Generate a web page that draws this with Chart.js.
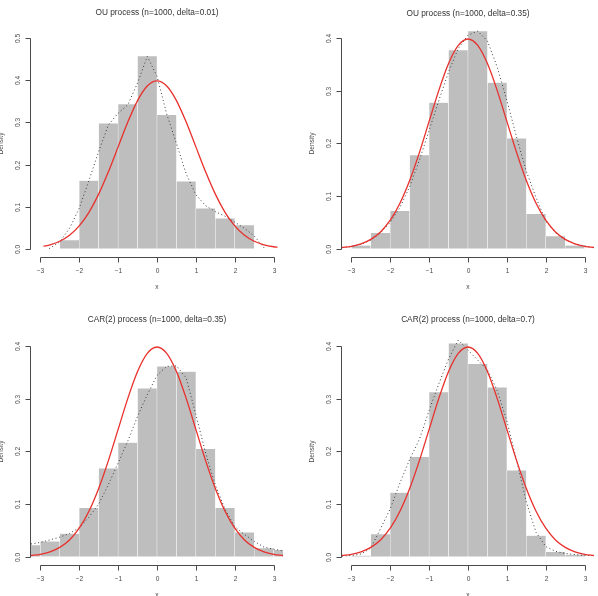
<!DOCTYPE html>
<html>
<head>
<meta charset="utf-8">
<script src="https://cdn.jsdelivr.net/npm/chart.js@4/dist/chart.umd.min.js"></script>
<style>
  body { margin: 0; background: #fff; }
  .panel { position: absolute; width: 299px; height: 298px; }
</style>
</head>
<body>
<div class="panel" style="left:0;top:0"><canvas id="ou001" width="299" height="298"></canvas></div>
<div class="panel" style="left:299px;top:0"><canvas id="ou035" width="299" height="298"></canvas></div>
<div class="panel" style="left:0;top:298px"><canvas id="car035" width="299" height="298"></canvas></div>
<div class="panel" style="left:299px;top:298px"><canvas id="car07" width="299" height="298"></canvas></div>
<script>
// Tick values and labels
const xTicks = [-3, -2, -1, 0, 1, 2, 3];
const xTickLabels = ['\u22123', '\u22122', '\u22121', '0', '1', '2', '3'];
const yTicks5 = [0, 0.1, 0.2, 0.3, 0.4, 0.5];
const yTickLabels5 = ['0.0', '0.1', '0.2', '0.3', '0.4', '0.5'];
const yTicks4 = [0, 0.1, 0.2, 0.3, 0.4];
const yTickLabels4 = ['0.0', '0.1', '0.2', '0.3', '0.4'];

// Normal density curve (red)
const normX = [-3.24, -3.0, -2.75, -2.5, -2.25, -2.0, -1.75, -1.5, -1.25, -1.0, -0.75, -0.5, -0.25, 0,
  0.25, 0.5, 0.75, 1.0, 1.25, 1.5, 1.75, 2.0, 2.25, 2.5, 2.75, 3.0, 3.24];
const normY = [0.0021, 0.0044, 0.0091, 0.0175, 0.0317, 0.0540, 0.0863, 0.1295, 0.1826, 0.2420, 0.3011, 0.3521, 0.3867, 0.3989,
  0.3867, 0.3521, 0.3011, 0.2420, 0.1826, 0.1295, 0.0863, 0.0540, 0.0317, 0.0175, 0.0091, 0.0044, 0.0021];
const normX1 = [-2.92, -2.75, -2.5, -2.25, -2.0, -1.75, -1.5, -1.25, -1.0, -0.75, -0.5, -0.25, 0,
  0.25, 0.5, 0.75, 1.0, 1.25, 1.5, 1.75, 2.0, 2.25, 2.5, 2.75, 3.0, 3.1];
const normY1 = [0.0056, 0.0091, 0.0175, 0.0317, 0.0540, 0.0863, 0.1295, 0.1826, 0.2420, 0.3011, 0.3521, 0.3867, 0.3989,
  0.3867, 0.3521, 0.3011, 0.2420, 0.1826, 0.1295, 0.0863, 0.0540, 0.0317, 0.0175, 0.0091, 0.0044, 0.0033];

// OU process, delta=0.01
const ou001Mids = [-2.25, -1.75, -1.25, -0.75, -0.25, 0.25, 0.75, 1.25, 1.75, 2.25];
const ou001Density = [0.020, 0.162, 0.298, 0.344, 0.458, 0.318, 0.160, 0.096, 0.072, 0.056];
const ou001KdeX = [-2.77, -2.5, -2.25, -2.0, -1.75, -1.5, -1.25, -1.0, -0.75, -0.5, -0.25, 0.0,
  0.25, 0.5, 0.75, 1.0, 1.25, 1.5, 1.75, 2.0, 2.25, 2.5, 2.77];
const ou001KdeY = [0.0, 0.016, 0.048, 0.096, 0.162, 0.231, 0.294, 0.322, 0.342, 0.394, 0.457, 0.41,
  0.32, 0.25, 0.178, 0.128, 0.102, 0.088, 0.077, 0.063, 0.048, 0.03, 0.0];

// OU process, delta=0.35
const ou035Mids = [-2.75, -2.25, -1.75, -1.25, -0.75, -0.25, 0.25, 0.75, 1.25, 1.75, 2.25, 2.75];
const ou035Density = [0.006, 0.030, 0.072, 0.178, 0.278, 0.378, 0.414, 0.316, 0.210, 0.066, 0.024, 0.006];
const gridX = [-3.24, -3.0, -2.75, -2.5, -2.25, -2.0, -1.75, -1.5, -1.25, -1.0, -0.75, -0.5, -0.25, 0,
  0.25, 0.5, 0.75, 1.0, 1.25, 1.5, 1.75, 2.0, 2.25, 2.5, 2.75, 3.0, 3.24];
const ou035KdeY = [0.002, 0.004, 0.008, 0.016, 0.03, 0.05, 0.078, 0.118, 0.168, 0.225, 0.282, 0.336, 0.381, 0.406,
  0.414, 0.395, 0.346, 0.282, 0.212, 0.147, 0.097, 0.052, 0.03, 0.017, 0.009, 0.005, 0.002];

// CAR(2) process, delta=0.35
const car035Mids = [-3.25, -2.75, -2.25, -1.75, -1.25, -0.75, -0.25, 0.25, 0.75, 1.25, 1.75, 2.25, 2.75, 3.25];
const car035Density = [0.022, 0.029, 0.044, 0.093, 0.168, 0.217, 0.320, 0.362, 0.352, 0.205, 0.093, 0.046, 0.016, 0.013];
const car035KdeY = [0.024, 0.027, 0.032, 0.037, 0.044, 0.055, 0.075, 0.10, 0.137, 0.178, 0.22, 0.267, 0.308, 0.345,
  0.362, 0.363, 0.34, 0.27, 0.197, 0.136, 0.09, 0.057, 0.042, 0.029, 0.018, 0.014, 0.011];

// CAR(2) process, delta=0.7
const car07Mids = [-2.75, -2.25, -1.75, -1.25, -0.75, -0.25, 0.25, 0.75, 1.25, 1.75, 2.25, 2.75];
const car07Density = [0.002, 0.043, 0.122, 0.190, 0.313, 0.406, 0.367, 0.322, 0.164, 0.040, 0.009, 0.004];
const car07KdeY = [0.001, 0.002, 0.005, 0.016, 0.053, 0.091, 0.14, 0.185, 0.223, 0.278, 0.329, 0.376, 0.412, 0.393,
  0.374, 0.355, 0.316, 0.258, 0.183, 0.104, 0.046, 0.019, 0.01, 0.006, 0.004, 0.002, 0.002];

const FONT = '"Liberation Sans", Arial, Helvetica, sans-serif';
const AXIS_COL = '#4a4a4a';

// R-style axes: line spans first..last tick, ticks point outward
const rAxes = {
  id: 'rAxes',
  afterDraw(chart, args, opts) {
    const ctx = chart.ctx, a = chart.chartArea;
    const xs = chart.scales.x, ys = chart.scales.y;
    ctx.save();
    ctx.strokeStyle = AXIS_COL;
    ctx.lineWidth = 1;

    const yb = Math.round(a.bottom) + 0.5;
    const xl = Math.round(a.left) - 0.5;
    const xpx = xTicks.map(t => Math.round(xs.getPixelForValue(t)) + 0.5);
    const ypx = opts.yTicks.map(t => Math.round(ys.getPixelForValue(t)) + 0.5);

    ctx.beginPath();
    ctx.moveTo(xpx[0], yb);
    ctx.lineTo(xpx[xpx.length - 1], yb);
    xpx.forEach(px => { ctx.moveTo(px, yb); ctx.lineTo(px, yb + 5); });
    ctx.moveTo(xl, ypx[0]);
    ctx.lineTo(xl, ypx[ypx.length - 1]);
    ypx.forEach(py => { ctx.moveTo(xl, py); ctx.lineTo(xl - 5, py); });
    ctx.stroke();

    ctx.fillStyle = AXIS_COL;
    ctx.font = '6.6px ' + FONT;
    ctx.textAlign = 'center';
    ctx.textBaseline = 'middle';
    xpx.forEach((px, i) => ctx.fillText(xTickLabels[i], px, a.bottom + 14));
    ypx.forEach((py, i) => {
      ctx.save();
      ctx.translate(a.left - 12.5, py);
      ctx.rotate(-Math.PI / 2);
      ctx.fillText(opts.yTickLabels[i], 0, 0);
      ctx.restore();
    });

    const cx = (a.left + a.right) / 2;
    ctx.fillText('x', cx, a.bottom + 30);
    ctx.save();
    ctx.translate(a.left - 29.5, (a.top + a.bottom) / 2);
    ctx.rotate(-Math.PI / 2);
    ctx.fillText('Density', 0, 0);
    ctx.restore();

    ctx.fillStyle = '#333';
    ctx.font = '8.3px ' + FONT;
    ctx.fillText(opts.title, cx, opts.titleY);
    ctx.restore();
  }
};

const pts = (xs, ys) => xs.map((x, i) => ({ x: x, y: ys[i] }));

function makePanel(id, p) {
  return new Chart(document.getElementById(id), {
    type: 'bar',
    data: {
      datasets: [
        {
          type: 'line',
          data: pts(p.normX, p.normY),
          borderColor: '#e8302c',
          borderWidth: 1.3,
          pointRadius: 0,
          cubicInterpolationMode: 'monotone',
          fill: false
        },
        {
          type: 'line',
          data: pts(p.kdeX, p.kdeY),
          borderColor: '#3a3a3a',
          borderWidth: 1,
          borderDash: [1, 2.6],
          pointRadius: 0,
          tension: 0,
          fill: false
        },
        {
          type: 'bar',
          data: pts(p.mids, p.density),
          backgroundColor: '#bebebe',
          borderColor: '#ffffff',
          borderWidth: 0.5,
          borderSkipped: false,
          barPercentage: 1,
          categoryPercentage: 1,
          clip: 0
        }
      ]
    },
    options: {
      responsive: false,
      animation: false,
      devicePixelRatio: 1,
      layout: { padding: p.pad },
      scales: {
        x: {
          type: 'linear', min: -3.24, max: 3.24, offset: false, display: false,
          afterBuildTicks: s => { s.ticks = xTicks.map(v => ({ value: v })); }
        },
        y: {
          type: 'linear', min: p.yMin, max: p.yMax, display: false,
          afterBuildTicks: s => { s.ticks = p.yTicks.map(v => ({ value: v })); }
        }
      },
      plugins: {
        legend: { display: false },
        tooltip: { enabled: false },
        rAxes: { title: p.title, titleY: p.titleY, yTicks: p.yTicks, yTickLabels: p.yTickLabels }
      }
    },
    plugins: [rAxes]
  });
}

makePanel('ou001', {
  title: 'OU process (n=1000, delta=0.01)', titleY: 13,
  mids: ou001Mids, density: ou001Density, kdeX: ou001KdeX, kdeY: ou001KdeY,
  normX: normX1, normY: normY1,
  yTicks: yTicks5, yTickLabels: yTickLabels5, yMin: -0.02, yMax: 0.52,
  pad: { left: 31, right: 16, top: 30, bottom: 41 }
});
makePanel('ou035', {
  title: 'OU process (n=1000, delta=0.35)', titleY: 14,
  mids: ou035Mids, density: ou035Density, kdeX: gridX, kdeY: ou035KdeY,
  normX: normX, normY: normY,
  yTicks: yTicks4, yTickLabels: yTickLabels4, yMin: -0.016, yMax: 0.416,
  pad: { left: 43, right: 4, top: 30, bottom: 41 }
});
makePanel('car035', {
  title: 'CAR(2) process (n=1000, delta=0.35)', titleY: 22,
  mids: car035Mids, density: car035Density, kdeX: gridX, kdeY: car035KdeY,
  normX: normX, normY: normY,
  yTicks: yTicks4, yTickLabels: yTickLabels4, yMin: -0.016, yMax: 0.416,
  pad: { left: 31, right: 16, top: 40, bottom: 31 }
});
makePanel('car07', {
  title: 'CAR(2) process (n=1000, delta=0.7)', titleY: 22,
  mids: car07Mids, density: car07Density, kdeX: gridX, kdeY: car07KdeY,
  normX: normX, normY: normY,
  yTicks: yTicks4, yTickLabels: yTickLabels4, yMin: -0.016, yMax: 0.416,
  pad: { left: 43, right: 4, top: 40, bottom: 31 }
});
</script>
</body>
</html>
